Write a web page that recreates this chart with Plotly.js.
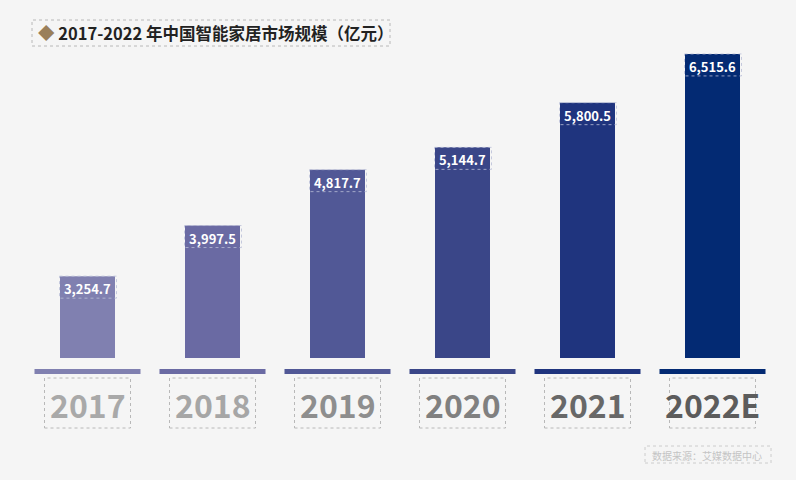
<!DOCTYPE html>
<html>
<head>
<meta charset="utf-8">
<script src="https://cdn.plot.ly/plotly-3.0.1.min.js"></script>
<style>
  html, body { margin: 0; padding: 0; background: #f5f5f5; }
  #chart { width: 796px; height: 480px; }
</style>
</head>
<body>
<div id="chart"></div>
<script>
const years = ["2017", "2018", "2019", "2020", "2021", "2022E"];
const marketSize = [3254.7, 3997.5, 4817.7, 5144.7, 5800.5, 6515.6];
const barColors = ["#8080b0", "#6a6aa3", "#515896", "#3a4688", "#1f347e", "#032a73"];
const yearColors = ["#a9a9a9", "#a6a6a6", "#8e8e8e", "#808080", "#686868", "#5c5c5c"];
const labels = marketSize.map(v => v.toLocaleString("en-US", { minimumFractionDigits: 1 }));

const W = 796, H = 480;
const M = { l: 25, r: 21, t: 40, b: 122 };
const PW = W - M.l - M.r, PH = H - M.t - M.b;
const px = x => (x - M.l) / PW;
const py = y => (H - M.b - y) / PH;
const yRange = [2054, 6720];
const n = years.length;
const slot = i => (i + 0.5) / n;

const FONT = "'Noto Sans CJK SC', 'Noto Sans', sans-serif";
const dashGray = "#b8b8b8";

const shapes = [];
const annotations = [];

years.forEach((yr, i) => {
  // colored base strip
  shapes.push({
    type: "rect", xref: "paper", yref: "paper",
    x0: slot(i) - 53 / PW, x1: slot(i) + 53 / PW,
    y0: py(374), y1: py(369),
    fillcolor: barColors[i], line: { width: 0 }
  });
  // dashed box around year
  shapes.push({
    type: "rect", xref: "paper", yref: "paper",
    x0: slot(i) - 43 / PW, x1: slot(i) + 43 / PW,
    y0: py(428), y1: py(378),
    line: { color: dashGray, width: 1, dash: "dot" }
  });
  // dashed box around value label
  shapes.push({
    type: "rect", xref: "paper", yref: "y",
    ysizemode: "pixel", yanchor: marketSize[i],
    x0: slot(i) - 28 / PW, x1: slot(i) + 29 / PW,
    y0: 0, y1: -22,
    line: { color: "rgba(185,190,215,0.8)", width: 1, dash: "dot" }
  });
  annotations.push({
    xref: "paper", yref: "paper", x: slot(i), y: py(404),
    xanchor: "center", yanchor: "middle",
    text: "<b>" + yr + "</b>", showarrow: false,
    font: { family: FONT, size: 32, color: yearColors[i] }
  });
});

// title box
shapes.push({
  type: "rect", xref: "paper", yref: "paper",
  x0: px(32), x1: px(390), y0: py(46), y1: py(20),
  line: { color: dashGray, width: 1, dash: "dot" }
});
annotations.push({
  xref: "paper", yref: "paper", x: px(36), y: py(33),
  xanchor: "left", yanchor: "middle", showarrow: false,
  text: "<span style='color:#9a7f5a'>◆</span> <b>2017-2022 年中国智能家居市场规模（亿元）</b>",
  font: { family: FONT, size: 16.5, color: "#222222" }
});

// source box
shapes.push({
  type: "rect", xref: "paper", yref: "paper",
  x0: px(645), x1: px(771), y0: py(463), y1: py(446),
  line: { color: "#cccccc", width: 1, dash: "dot" }
});
annotations.push({
  xref: "paper", yref: "paper", x: px(650), y: py(455),
  xanchor: "left", yanchor: "middle", showarrow: false,
  text: "数据来源：艾媒数据中心",
  font: { family: FONT, size: 10, color: "#c4c4c4" }
});

Plotly.newPlot("chart", [{
  type: "bar",
  x: years,
  y: marketSize,
  marker: { color: barColors, line: { width: 0 } },
  text: labels,
  textposition: "inside",
  insidetextanchor: "end",
  textangle: 0,
  textfont: { family: FONT, size: 13, color: "#ffffff", weight: "bold" },
  hoverinfo: "skip"
}], {
  width: W, height: H,
  margin: M,
  paper_bgcolor: "#f5f5f5",
  plot_bgcolor: "#f5f5f5",
  bargap: 0.56,
  showlegend: false,
  xaxis: { visible: false, type: "category", range: [-0.5, n - 0.5] },
  yaxis: { visible: false, range: yRange },
  shapes: shapes,
  annotations: annotations
}, { displayModeBar: false, staticPlot: true });
</script>
</body>
</html>
